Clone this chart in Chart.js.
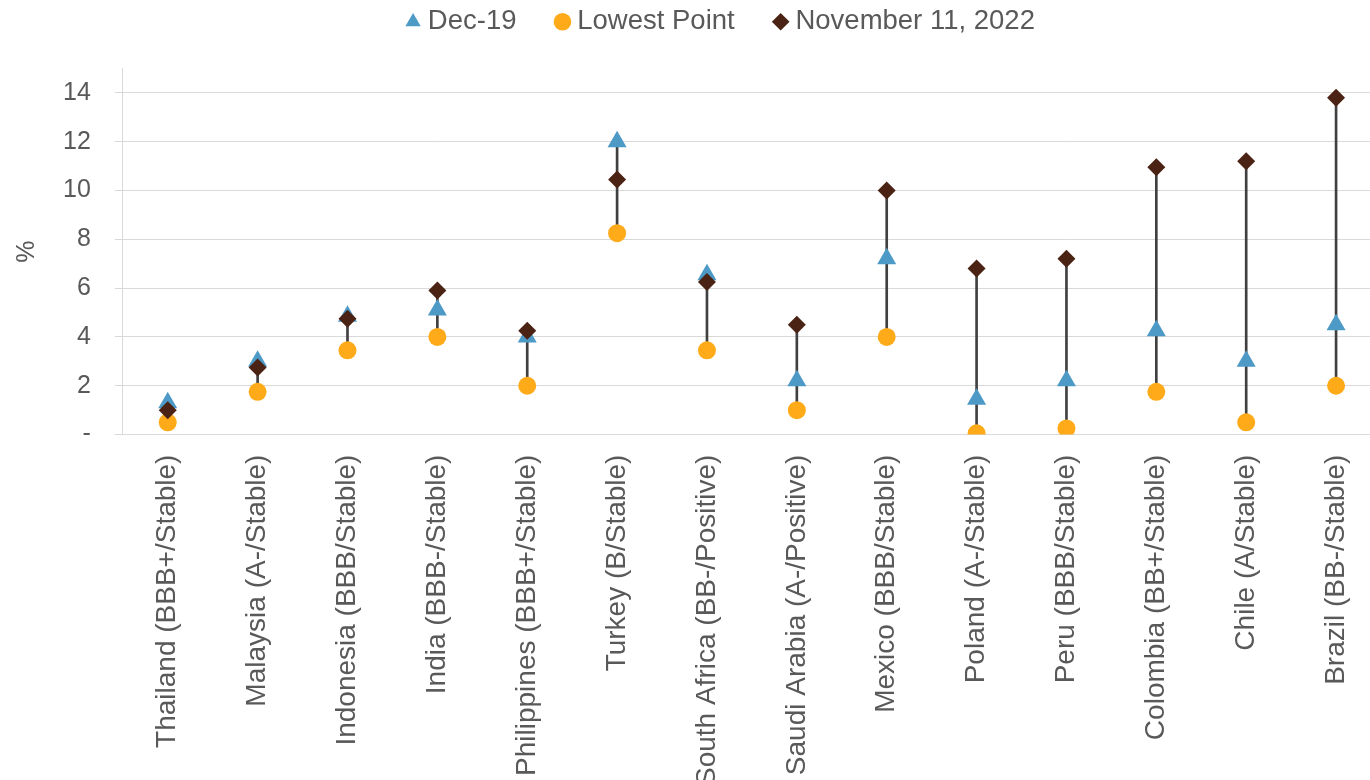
<!DOCTYPE html>
<html>
<head>
<meta charset="utf-8">
<title>Sovereign yields by rating</title>
<script src="https://cdn.jsdelivr.net/npm/chart.js@4/dist/chart.umd.min.js"></script>
<style>
    html, body { margin: 0; padding: 0; background: #fff; overflow: hidden; }
    #wrap { position: absolute; left: 0; top: 0; }
</style>
</head>
<body>
<div id="wrap"><canvas id="yieldChart" width="1392" height="806"></canvas></div>
<script>
// Countries with S&P rating / outlook
const countries = [
    'Thailand (BBB+/Stable)', 'Malaysia (A-/Stable)', 'Indonesia (BBB/Stable)',
    'India (BBB-/Stable)', 'Philippines (BBB+/Stable)', 'Turkey (B/Stable)',
    'South Africa (BB-/Positive)', 'Saudi Arabia (A-/Positive)', 'Mexico (BBB/Stable)',
    'Poland (A-/Stable)', 'Peru (BBB/Stable)', 'Colombia (BB+/Stable)',
    'Chile (A/Stable)', 'Brazil (BB-/Stable)'
];
const dec19 = [1.3, 3.0, 4.85, 5.1, 4.0, 12.0, 6.55, 2.2, 7.2, 1.45, 2.2, 4.25, 3.0, 4.5];
const lowestPoint = [0.5, 1.75, 3.45, 4.0, 2.0, 8.25, 3.45, 1.0, 4.0, 0.05, 0.25, 1.75, 0.5, 2.0];
const nov2022 = [1.0, 2.75, 4.75, 5.9, 4.25, 10.45, 6.25, 4.5, 10.0, 6.8, 7.2, 10.95, 11.2, 13.8];
const yTicks = [0, 2, 4, 6, 8, 10, 12, 14];

const textColor = '#595959';
const gridColor = '#d9d9d9';
const fontFamily = 'Arial, "Liberation Sans", sans-serif';

// high-low range for each country, drawn as a thin floating bar
const ranges = countries.map((c, i) => {
    const vals = [dec19[i], lowestPoint[i], nov2022[i]];
    return [Math.min(...vals), Math.max(...vals)];
});

// extra room under the legend, and a nudge to the right
const legendTweak = {
    id: 'legendTweak',
    beforeUpdate(chart) {
        const legend = chart.legend;
        if (legend && !legend._gapPatched) {
            const fit = legend.fit;
            legend.fit = function () {
                fit.call(this);
                this.height += 23;
            };
            legend._gapPatched = true;
        }
    },
    afterLayout(chart) {
        chart.legend.left += 27;
        chart.legend.right += 27;
    }
};

new Chart(document.getElementById('yieldChart'), {
    type: 'bar',
    data: {
        labels: countries,
        datasets: [
            {
                label: 'Dec-19',
                type: 'line',
                data: dec19,
                showLine: false,
                pointStyle: 'triangle',
                pointRadius: 11,
                backgroundColor: '#4e9ac6',
                borderColor: '#4e9ac6',
                borderWidth: 0,
                pointBorderWidth: 0,
                order: 2
            },
            {
                label: 'Lowest Point',
                type: 'line',
                data: lowestPoint,
                showLine: false,
                pointStyle: 'circle',
                pointRadius: 9,
                backgroundColor: '#ffab19',
                borderColor: '#ffab19',
                borderWidth: 0,
                pointBorderWidth: 0,
                order: 3
            },
            {
                label: 'November 11, 2022',
                type: 'line',
                data: nov2022,
                showLine: false,
                pointStyle: 'rectRot',
                pointRadius: 9,
                backgroundColor: '#4b2314',
                borderColor: '#4b2314',
                borderWidth: 0,
                pointBorderWidth: 0,
                order: 1
            },
            {
                label: 'range',
                data: ranges,
                backgroundColor: '#404040',
                barThickness: 2,
                order: 10
            }
        ]
    },
    options: {
        responsive: false,
        animation: false,
        devicePixelRatio: 1,
        layout: {
            padding: { left: 5, right: 4, top: -37, bottom: 0 }
        },
        plugins: {
            tooltip: { enabled: false },
            legend: {
                position: 'top',
                labels: {
                    usePointStyle: true,
                    boxWidth: 2,
                    boxHeight: 12.5,
                    padding: 45,
                    color: textColor,
                    font: { family: fontFamily, size: 27.5 },
                    filter: item => item.datasetIndex < 3,
                    sort: (a, b) => a.datasetIndex - b.datasetIndex
                }
            }
        },
        scales: {
            x: {
                grid: { display: false, drawTicks: false },
                border: { color: gridColor, width: 1 },
                ticks: {
                    autoSkip: false,
                    maxRotation: 90,
                    minRotation: 90,
                    padding: 20,
                    color: textColor,
                    font: { family: fontFamily, size: 28 }
                }
            },
            y: {
                min: 0,
                max: 15,
                afterBuildTicks(scale) {
                    scale.ticks = yTicks.map(v => ({ value: v }));
                },
                grid: { color: gridColor, tickLength: 8, tickColor: gridColor },
                border: { color: gridColor, width: 1 },
                ticks: {
                    padding: 24,
                    color: textColor,
                    font: { family: fontFamily, size: 25 },
                    callback: value => (value === 0 ? '-' : value)
                },
                title: {
                    display: true,
                    text: '%',
                    color: textColor,
                    font: { family: fontFamily, size: 25 },
                    padding: { top: 7, bottom: -3 }
                }
            }
        }
    },
    plugins: [legendTweak]
});
</script>
</body>
</html>
